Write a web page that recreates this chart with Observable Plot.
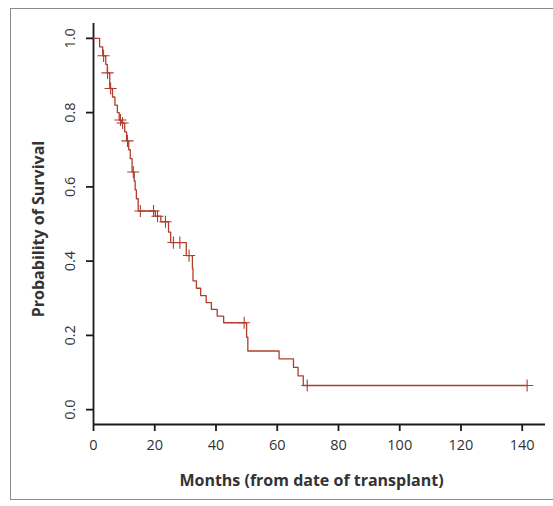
<!DOCTYPE html>
<html><head><meta charset="utf-8">
<script src="https://cdn.jsdelivr.net/npm/d3@7"></script>
<script src="https://cdn.jsdelivr.net/npm/@observablehq/plot@0.6"></script>
<style>
body{margin:0;background:#fff;overflow:hidden;width:553px;height:506px;position:relative;font-family:"Open Sans",sans-serif}
#frame{position:absolute;left:10px;top:8px;width:560px;height:492px;border:1.5px solid #8a8a8a;box-sizing:border-box}
#chart{position:absolute;left:0;top:0}
</style></head><body><div id="frame"></div><div id="chart"></div>
<script>
// Kaplan-Meier event times (months) and survival after each drop
const eventTimes = [2, 3, 4, 4.5, 5.3, 6.2, 7, 7.8, 8.4, 9.2, 10.2, 10.8, 11.5, 12, 12.6, 13.3, 13.6, 14, 14.6, 20.2, 22, 24.5, 25.2, 30.3, 32.3, 32.5, 33.6, 35, 36.8, 38.5, 40.4, 42.5, 50, 50.4, 60.6, 65.3, 66.8, 68.5];
const survival   = [0.977, 0.953, 0.93, 0.907, 0.865, 0.842, 0.82, 0.80, 0.78, 0.772, 0.748, 0.724, 0.70, 0.676, 0.64, 0.616, 0.592, 0.568, 0.535, 0.521, 0.506, 0.478, 0.45, 0.415, 0.38, 0.347, 0.327, 0.307, 0.288, 0.27, 0.252, 0.234, 0.195, 0.158, 0.137, 0.114, 0.091, 0.065];
const censorTimes = [3.3, 4.6, 5.6, 8.8, 9.5, 11.1, 13, 15.3, 19.6, 20.9, 23.5, 26.1, 28.2, 31.2, 49.2, 69.8, 141.6];
const endTime = 141.6;
const xTicks = [0, 20, 40, 60, 80, 100, 120, 140];
const yTicks = [0, 0.2, 0.4, 0.6, 0.8, 1.0];
const yTickLabels = ["0.0", "0.2", "0.4", "0.6", "0.8", "1.0"];
const xTitle = "Months (from date of transplant)";
const yTitle = "Probability of Survival";

const steps = [{t: 0, s: 1}, ...eventTimes.map((t, i) => ({t, s: survival[i]})), {t: endTime, s: survival[survival.length - 1]}];
function survAt(t) { let s = 1; eventTimes.forEach((e, i) => { if (e <= t) s = survival[i]; }); return s; }
const censors = censorTimes.map(t => ({t, s: survAt(t)}));
const yTickData = yTicks.map((v, i) => ({v, label: yTickLabels[i]}));

const col = "#b03e2d";
const axisCol = "#1a1a1a";
const font = "'Open Sans', sans-serif";

const chart = Plot.plot({
  width: 553,
  height: 506,
  marginLeft: 93,
  marginRight: 8,
  marginTop: 23,
  marginBottom: 82,
  style: {fontFamily: font, background: "transparent", overflow: "visible"},
  x: {domain: [0, 147.6]},
  y: {domain: [-0.04, 1.04]},
  marks: [
    Plot.axisX(xTicks, {tickSize: 7, tickPadding: 8, fontSize: 14.5, stroke: axisCol, strokeWidth: 1.8, fill: "#333", label: null}),
    Plot.axisY(yTicks, {tickSize: 7, strokeWidth: 1.8, stroke: axisCol, text: null, label: null}),
    Plot.text(yTickData, {x: 0, y: "v", text: "label", dx: -23, rotate: -90, fontSize: 14.5, fill: "#333", textAnchor: "middle", lineAnchor: "middle"}),
    Plot.ruleY([-0.04], {x1: 0, x2: 147.6, stroke: axisCol, strokeWidth: 1.8}),
    Plot.ruleX([0], {y1: -0.04, y2: 1.04, stroke: axisCol, strokeWidth: 1.8}),
    Plot.line(steps, {x: "t", y: "s", curve: "step-after", stroke: col, strokeWidth: 1.3}),
    Plot.dot(censors, {x: "t", y: "s", symbol: "plus", r: 4, stroke: col, strokeWidth: 1.1}),
    Plot.text([yTitle], {frameAnchor: "left", dx: -55, dy: 5, rotate: -90, fontSize: 16, fontWeight: "bold", fill: "#333", textAnchor: "middle", lineAnchor: "middle"}),
    Plot.text([xTitle], {frameAnchor: "bottom", dx: -8, dy: 56, fontSize: 16, fontWeight: "bold", fill: "#333", textAnchor: "middle", lineAnchor: "middle"})
  ]
});
document.getElementById("chart").appendChild(chart);
</script>
</body></html>
